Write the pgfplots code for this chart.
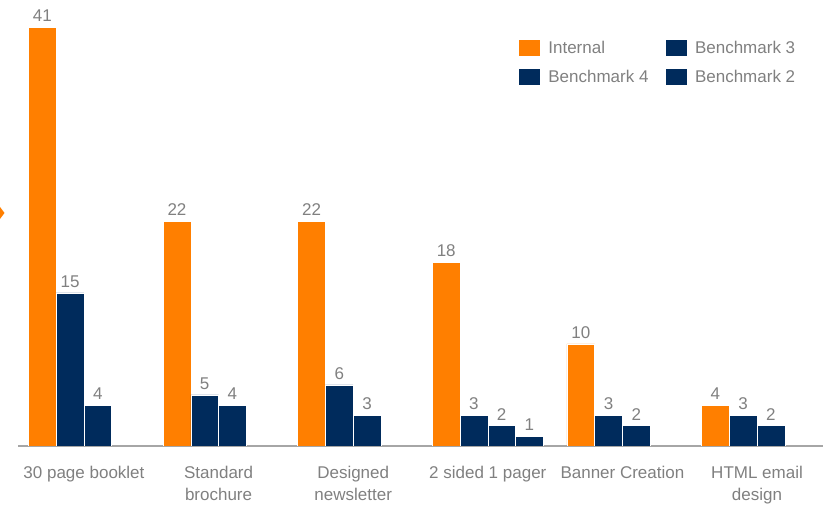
\documentclass[border=0pt]{standalone}
\usepackage{pgfplots}
\pgfplotsset{compat=1.18}
\usepackage{fontspec}
\setmainfont{Liberation Sans}
\definecolor{corange}{RGB}{255,127,0}
\definecolor{cnavy}{RGB}{0,43,92}
\definecolor{ctext}{RGB}{128,128,128}
\definecolor{caxis}{RGB}{166,166,166}
\begin{document}
\begin{tikzpicture}[x=1pt,y=1pt]
\useasboundingbox (0,0) rectangle (827,505);
\fill[corange] (0,286) -- (4.5,292) -- (0,298) -- cycle;
\begin{axis}[
  at={(18pt,59pt)}, anchor=south west,
  scale only axis, width=805pt, height=446pt,
  /pgf/number format/assume math mode=true,
  ybar=0pt, bar width=0.206,
  xmin=-0.49, xmax=5.49, ymin=0, ymax=43.7,
  axis x line=bottom, axis y line=none,
  x axis line style={-, draw=caxis, line width=1.2pt},
  xtick={0,1,2,3,4,5},
  xticklabels={30 page booklet, {Standard\\brochure}, {Designed\\newsletter}, 2 sided 1 pager, Banner Creation, {HTML email\\design}},
  xtick style={draw=none},
  xticklabel style={align=center, text=ctext, font=\fontsize{17}{21.5}\selectfont, yshift=-15pt},
  nodes near coords,
  every node near coord/.append style={text=ctext, font=\fontsize{17}{20}\selectfont, yshift=2pt},
  legend columns=2,
  legend cell align=left,
  legend style={at={(0.617,0.918)}, anchor=north west, draw=none, fill=none,
    font=\fontsize{17}{20}\selectfont, text=ctext,
    /tikz/every odd column/.append style={column sep=6pt},
    /tikz/every even column/.append style={column sep=14pt},
    row sep=11pt},
  legend image code/.code={\fill[#1] (0pt,-8pt) rectangle (22pt,9pt);},
]
\addplot[fill=corange, draw=white, line width=0.5pt] coordinates {(0,41) (1,22) (2,22) (3,18) (4,10) (5,4)};
\addlegendentry{Internal}
\addplot[fill=cnavy, draw=white, line width=0.5pt] coordinates {(0,15) (1,5) (2,6) (3,3) (4,3) (5,3)};
\addlegendentry{Benchmark 3}
\addplot[fill=cnavy, draw=white, line width=0.5pt] coordinates {(0,4) (1,4) (2,3) (3,2) (4,2) (5,2)};
\addlegendentry{Benchmark 4}
\addplot[fill=cnavy, draw=white, line width=0.5pt] coordinates {(3,1)};
\addlegendentry{Benchmark 2}
\end{axis}
\end{tikzpicture}
\end{document}
